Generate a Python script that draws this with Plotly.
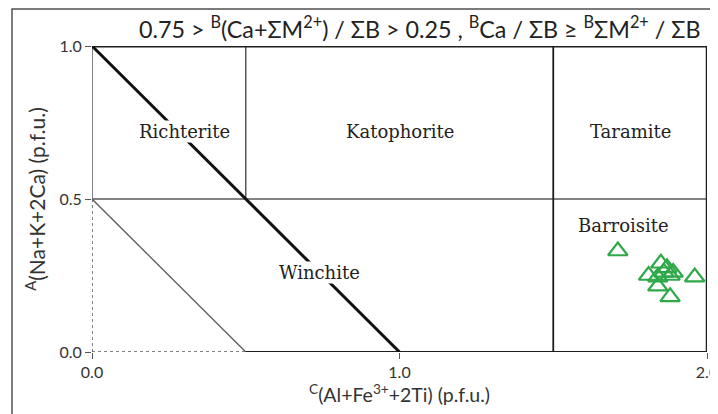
import plotly.graph_objects as go

# sample data: C(Al+Fe3++2Ti) vs A(Na+K+2Ca), p.f.u.
sample_x = [1.71, 1.85, 1.87, 1.89, 1.81, 1.86, 1.96, 1.84, 1.88, 1.84, 1.88]
sample_y = [0.33, 0.29, 0.275, 0.26, 0.25, 0.26, 0.245, 0.215, 0.18, 0.245, 0.25]

# field names and label positions
fields = ["Richterite", "Katophorite", "Taramite", "Barroisite", "Winchite"]
field_x = [0.30, 1.0, 1.75, 1.73, 0.74]
field_y = [0.72, 0.72, 0.72, 0.415, 0.26]

x_ticks = [0.0, 1.0, 2.0]
y_ticks = [0.0, 0.5, 1.0]

fig = go.Figure()

def seg(xs, ys, color, width, dash="solid"):
    fig.add_trace(go.Scatter(x=xs, y=ys, mode="lines", hoverinfo="skip",
                             line=dict(color=color, width=width, dash=dash),
                             showlegend=False))

gray = "#5a5a5a"
dark = "#1e1e1e"

# field boundaries
seg([0, 2], [0.5, 0.5], gray, 1.5)
seg([0.5, 0.5], [0.5, 1.0], gray, 1.5)
seg([0, 0], [0.5, 1.0], gray, 1.5)
seg([0, 0], [0, 0.5], gray, 1.5, "dot")
seg([0, 0.5], [0, 0], gray, 1.5, "dot")
seg([0, 0.5], [0.5, 0], gray, 1.3)
seg([0.5, 2.0], [0, 0], dark, 2)
seg([1.5, 1.5], [0, 1.0], dark, 1.8)
seg([2.0, 2.0], [0, 1.0], dark, 2.5)
seg([0, 2.0], [1.0, 1.0], dark, 3)
seg([0, 1.0], [1.0, 0], "#111", 3)

fig.add_trace(go.Scatter(
    x=sample_x, y=sample_y, mode="markers", showlegend=False,
    marker=dict(symbol="triangle-up-open", size=17, color="#2fa84a",
                line=dict(width=2.2, color="#2fa84a"))))

for name, fx, fy in zip(fields, field_x, field_y):
    fig.add_annotation(x=fx, y=fy, text=name, showarrow=False,
                       bgcolor="white", borderpad=0,
                       font=dict(family="DejaVu Serif", size=18, color="#222"))

fig.add_annotation(
    xref="paper", yref="paper", x=0.532, y=1.062, yanchor="middle",
    showarrow=False,
    text="0.75 > <sup>B</sup>(Ca+ΣM<sup>2+</sup>) / ΣB > 0.25 , <sup>B</sup>Ca / ΣB ≥ <sup>B</sup>ΣM<sup>2+</sup> / ΣB",
    font=dict(family="Lato", size=23.3, color="#222"))

# outer frame (only left and top edges fall inside the picture)
fig.add_shape(type="rect", xref="paper", yref="paper",
              x0=-0.1301, x1=1.2, y0=-0.5, y1=1.1209,
              fillcolor="rgba(0,0,0,0)",
              line=dict(color="#505050", width=1.5))

fig.update_layout(
    width=718, height=414,
    margin=dict(l=84, r=19, t=38, b=70),
    plot_bgcolor="white", paper_bgcolor="white",
    font=dict(family="Lato", color="#333"),
    xaxis=dict(range=[0, 2], showgrid=False, zeroline=False, showline=False,
               automargin=False,
               tickvals=x_ticks, ticktext=["%.1f" % v for v in x_ticks],
               ticks="outside", ticklen=6, tickcolor="#555",
               tickfont=dict(size=16),
               title=dict(text="<sup>C</sup>(Al+Fe<sup>3+</sup>+2Ti) (p.f.u.)",
                          font=dict(size=19.5), standoff=4)),
    yaxis=dict(range=[0, 1], showgrid=False, zeroline=False, showline=False,
               automargin=False,
               tickvals=y_ticks, ticktext=["%.1f" % v for v in y_ticks],
               ticks="outside", ticklen=6, tickcolor="#555",
               tickfont=dict(size=16),
               title=dict(text="<sup>A</sup>(Na+K+2Ca) (p.f.u.)",
                          font=dict(size=21), standoff=8)),
)

fig.write_html("out.html")
